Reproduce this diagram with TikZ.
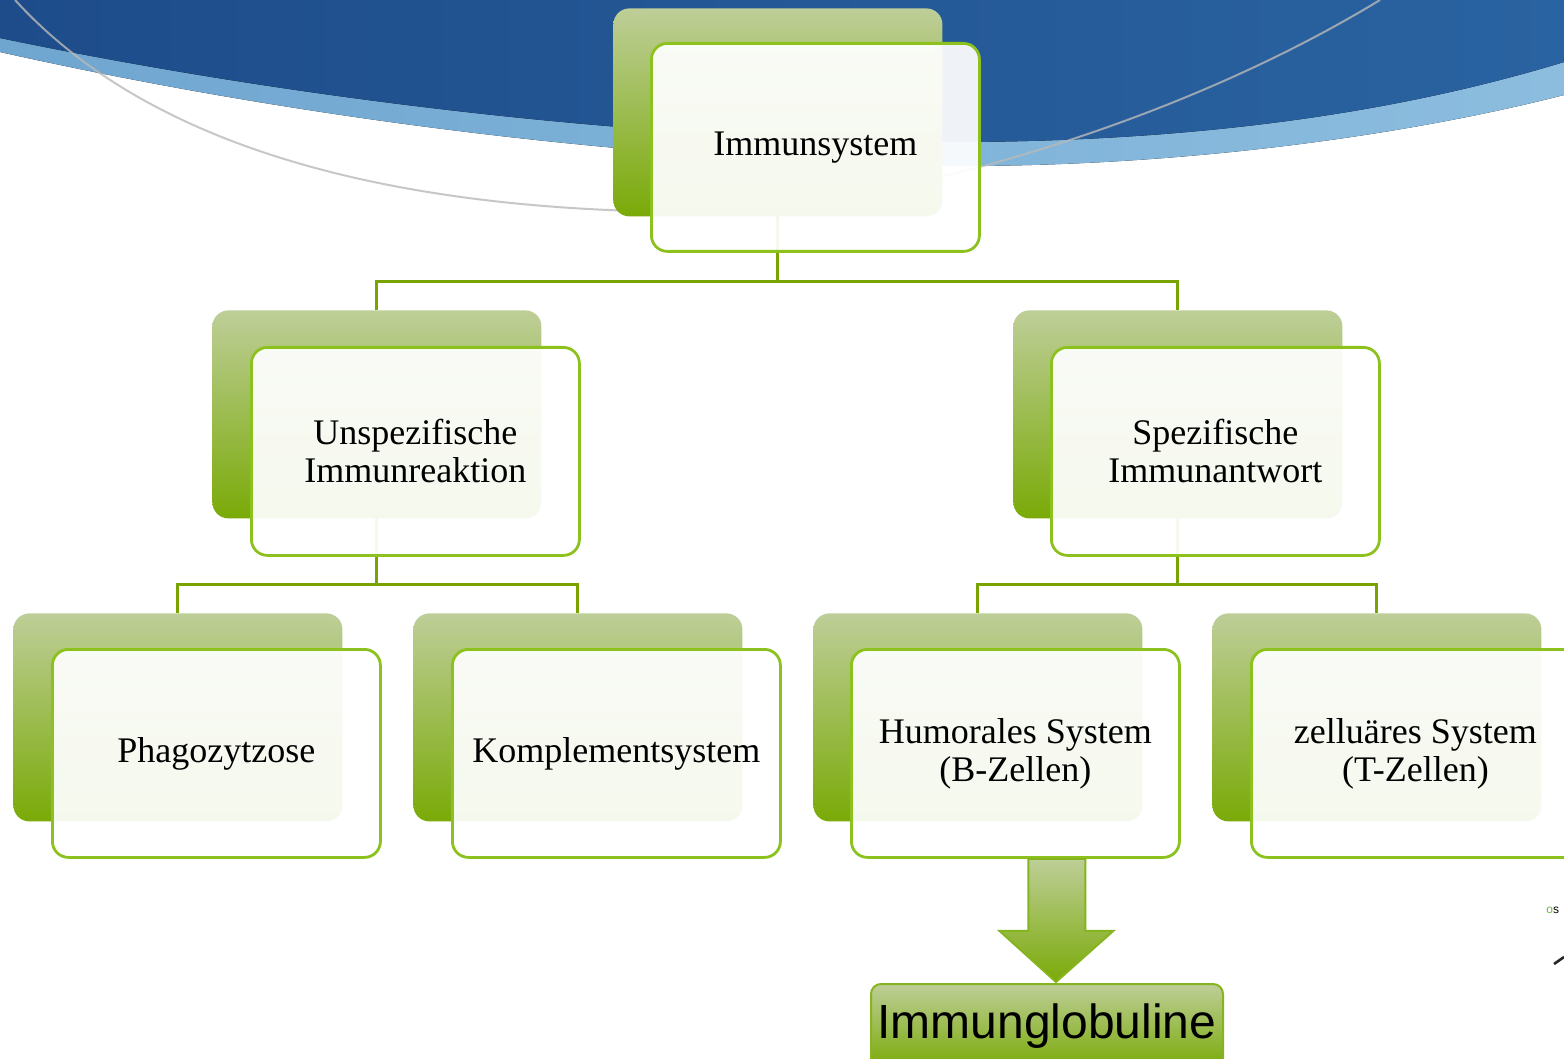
\documentclass[tikz,border=0pt]{standalone}
\usepackage{fontspec}
\setmainfont{Liberation Serif}
\newfontfamily\sansf{Liberation Sans}
\usetikzlibrary{calc}
\definecolor{bluedark}{HTML}{1E4C8A}
\definecolor{bluemid}{HTML}{3A7BB3}
\definecolor{blueright}{HTML}{2A63A1}
\definecolor{bluelight}{HTML}{6FA6D0}
\definecolor{bluelight2}{HTML}{8CBDDF}
\definecolor{gtop}{HTML}{BECE98}
\definecolor{gbot}{HTML}{7AAA08}
\definecolor{gborder}{HTML}{8DC21E}
\definecolor{gline}{HTML}{78A300}
\definecolor{arrowborder}{HTML}{86B41E}
\definecolor{logogreen}{HTML}{6DB33F}
\pgfdeclarelayer{bg}
\pgfsetlayers{bg,main}
\begin{document}
\begin{tikzpicture}[x=0.5pt,y=-0.5pt,
  backbox/.style={rectangle, rounded corners=8pt, minimum width=164.5pt, minimum height=104pt,
    inner sep=0pt, top color=gtop, bottom color=gbot, draw=none, anchor=north west},
  frontbox/.style={rectangle, rounded corners=8pt, minimum width=164pt, minimum height=104pt,
    inner sep=0pt, draw=gborder, line width=1.4pt, fill=white, fill opacity=0.93, text opacity=1,
    align=center, anchor=north west, font=\fontsize{18}{19}\selectfont},
  conn/.style={draw=gline, line width=1.5pt},
  igbox/.style={rectangle, rounded corners=5pt, minimum width=176pt, minimum height=42pt,
    inner sep=0pt, top color=gtop, bottom color=gbot, draw=arrowborder, line width=1pt,
    anchor=north west, font=\sansf\fontsize{24}{24}\selectfont},
  blockarrow/.style={top color=gtop, bottom color=gbot, draw=arrowborder, line width=1pt, line join=miter},
]
\useasboundingbox (0,0) rectangle (1564,1059);
\clip (0,0) rectangle (1564,1059);

% boxes
\node[backbox] (b1) at (613,8) {};
\node[frontbox] (f1) at (650,42) {\raisebox{-1.5pt}{Immunsystem}};
\node[backbox] (b2) at (212,310) {};
\node[frontbox] (f2) at (250,346) {Unspezifische\\Immunreaktion};
\node[backbox] (b3) at (1013,310) {};
\node[frontbox] (f3) at (1050,346) {Spezifische\\Immunantwort};
\node[backbox] (b4) at (13,613) {};
\node[frontbox] (f4) at (51,648) {\raisebox{-1pt}{Phagozytzose}};
\node[backbox] (b5) at (413,613) {};
\node[frontbox] (f5) at (451,648) {\raisebox{-1pt}{Komplementsystem}};
\node[backbox] (b6) at (813,613) {};
\node[frontbox] (f6) at (850,648) {Humorales System\\(B-Zellen)};
\node[backbox] (b7) at (1212,613) {};
\node[frontbox] (f7) at (1250,648) {zelluäres System\\(T-Zellen)};

\node[igbox] (ig) at (870,983) {Immunglobuline};

% block arrow
\draw[blockarrow] ($(f6.south)+(13,0)$) -- ($(f6.south)+(13,72)$) -- ($(f6.south)+(-16,72)$)
  -- ($(ig.north)+(9,-1)$) -- ($(f6.south)+(98,72)$) -- ($(f6.south)+(70,72)$)
  -- ($(f6.south)+(70,0)$) -- cycle;

% logo remnants
\node[font=\sansf\fontsize{6}{6}\selectfont, anchor=west, inner sep=0pt] (logo) at (1546,910) {\textcolor{logogreen}{o}s};
\coordinate (lm1) at (1554,964);
\coordinate (lm2) at (1564,957);
\draw[line width=1.3pt, black!85] (lm1) -- (lm2);

\begin{pgfonlayer}{bg}
  \fill[white] (0,0) rectangle (1564,1059);
  % banner
  \fill[left color=bluelight, right color=bluelight2]
    (0,0) -- (0,52) .. controls (250,108) and (600,162) .. (960,166)
    .. controls (1200,166) and (1420,132) .. (1564,95) -- (1564,0) -- cycle;
  \fill[left color=bluedark, middle color=bluemid, right color=blueright]
    (0,0) -- (0,38) .. controls (250,90) and (600,140) .. (950,142)
    .. controls (1200,142) and (1400,112) .. (1564,62) -- (1564,0) -- cycle;
  % thin grey curve
  \draw[gray!55, line width=1pt, opacity=0.8]
    (15,0) .. controls (170,170) and (450,212) .. (700,212)
    .. controls (850,212) and (1150,140) .. (1380,0);
  % connectors
  \coordinate (m1) at ($(f1.south)!0.5!(b2.north)$);
  \coordinate (m2) at ($(f2.south)!0.5!(b4.north)$);
  \coordinate (m3) at ($(f3.south)!0.5!(b6.north)$);
  \draw[conn] (b1.center) -- (b1.center |- m1) -| (b2.north);
  \draw[conn] (b1.center |- m1) -| (b3.north);
  \draw[conn] (b2.center) -- (b2.center |- m2) -| (b4.north);
  \draw[conn] (b2.center |- m2) -| (b5.north);
  \draw[conn] (b3.center) -- (b3.center |- m3) -| (b6.north);
  \draw[conn] (b3.center |- m3) -| (b7.north);
\end{pgfonlayer}
\end{tikzpicture}
\end{document}
